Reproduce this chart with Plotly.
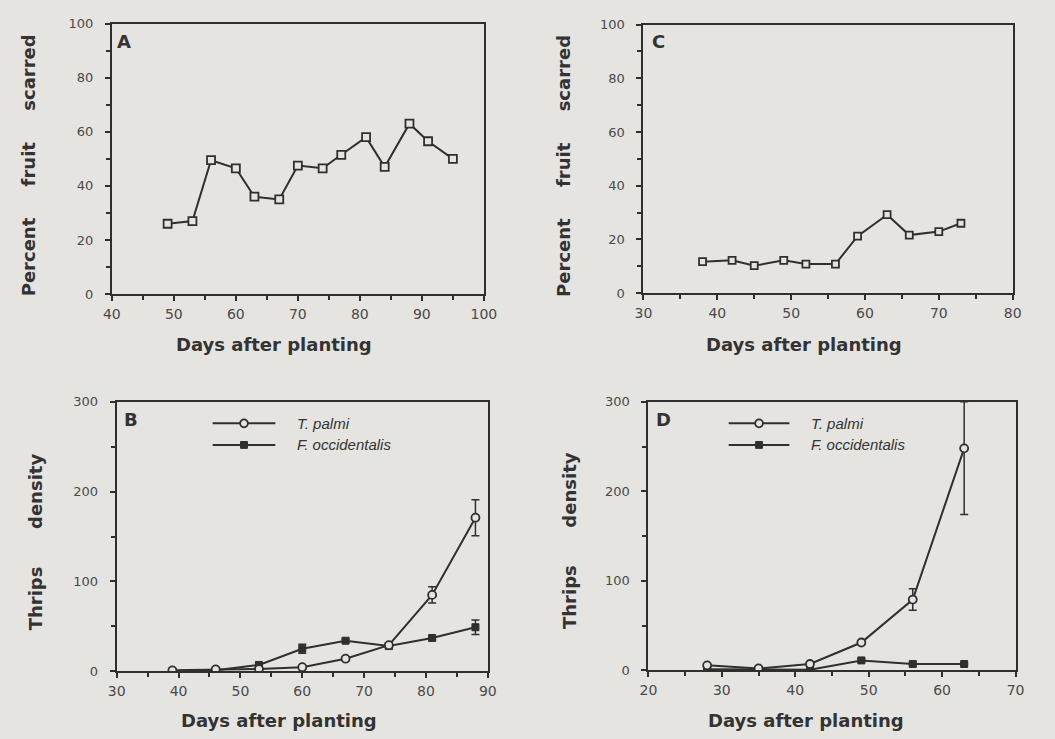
import plotly.graph_objects as go

# ---------------- data ----------------
A_days = [49, 53, 56, 60, 63, 67, 70, 74, 77, 81, 84, 88, 91, 95]
A_pct = [26, 27, 49.5, 46.5, 36, 35, 47.5, 46.5, 51.5, 58, 47, 63, 56.5, 50]

C_days = [38, 42, 45, 49, 52, 56, 59, 63, 66, 70, 73]
C_pct = [11.7, 12.2, 10.2, 12.2, 10.8, 10.8, 21.2, 29.2, 21.6, 22.9, 26]

B_days = [39, 46, 53, 60, 67, 74, 81, 88]
B_palmi = [1, 2, 2.5, 4.5, 14, 29, 85, 171]
B_palmi_err = [0, 0, 0, 1, 2, 2, 9, 20]
B_occ = [0, 1, 7, 25, 34, 28, 37, 49]
B_occ_err = [0, 0, 2, 5, 2, 3, 2, 8]

D_days = [28, 35, 42, 49, 56, 63]
D_palmi = [5.5, 2, 7, 31, 79, 248]
D_palmi_err_plus = [0, 0, 0, 2, 12, 52]
D_palmi_err_minus = [0, 0, 0, 2, 12, 74]
D_occ = [1, 1, 0.5, 11, 7, 7]
D_occ_err = [0, 0, 0, 2, 1, 1]

series_names = ["T. palmi", "F. occidentalis"]
x_title = "Days after planting"
yA_title = "Percent\u00a0\u00a0\u00a0\u00a0\u00a0fruit\u00a0\u00a0\u00a0\u00a0\u00a0scarred"
yB_title = "Thrips\u00a0\u00a0\u00a0\u00a0\u00a0\u00a0density"
panel_letters = ["A", "C", "B", "D"]

# ---------------- style ----------------
W, H = 1055, 739
BG = "#e6e4e0"
INK = "#2f2f2f"
XTICK_FONT = dict(family="DejaVu Sans", size=14, color="#4a4a4a")
YTICK_FONT = dict(family="DejaVu Sans", size=13, color="#4a4a4a")
TITLE_FONT = dict(family="DejaVu Sans", size=18, color="#333333")


def px(x):
    return x / W


def py(y):
    return 1 - y / H


fig = go.Figure()

line_style = dict(color=INK, width=2)
err_style = dict(color=INK, thickness=1.5, width=4)
open_square = dict(symbol="square", size=8, color=BG, line=dict(color=INK, width=1.8))
open_circle = dict(symbol="circle", size=8, color=BG, line=dict(color=INK, width=1.8))
filled_square = dict(symbol="square", size=7, color=INK, line=dict(color=INK, width=1))

# Panel A
fig.add_trace(go.Scatter(x=A_days, y=A_pct, mode="lines+markers", xaxis="x", yaxis="y",
                         line=line_style, marker=open_square, showlegend=False))
# Panel C
fig.add_trace(go.Scatter(x=C_days, y=C_pct, mode="lines+markers", xaxis="x2", yaxis="y2",
                         line=line_style, marker=dict(open_square, size=7), showlegend=False))
# Panel B
fig.add_trace(go.Scatter(x=B_days, y=B_occ, mode="lines+markers", xaxis="x3", yaxis="y3",
                         line=line_style, error_y=dict(type="data", array=B_occ_err, **err_style),
                         marker=filled_square, name=series_names[1], showlegend=False))
fig.add_trace(go.Scatter(x=B_days, y=B_palmi, mode="lines+markers", xaxis="x3", yaxis="y3",
                         line=line_style, error_y=dict(type="data", array=B_palmi_err, **err_style),
                         marker=open_circle, name=series_names[0], showlegend=False))
# Panel D
fig.add_trace(go.Scatter(x=D_days, y=D_occ, mode="lines+markers", xaxis="x4", yaxis="y4",
                         line=line_style, error_y=dict(type="data", array=D_occ_err, **err_style),
                         marker=filled_square, name=series_names[1], showlegend=False))
fig.add_trace(go.Scatter(x=D_days, y=D_palmi, mode="lines+markers", xaxis="x4", yaxis="y4",
                         line=line_style,
                         error_y=dict(type="data", array=D_palmi_err_plus, arrayminus=D_palmi_err_minus, **err_style),
                         marker=open_circle, name=series_names[0], showlegend=False))


def axis(domain, rng, dtick, minor_dtick, anchor, is_x):
    return dict(domain=domain, range=rng, dtick=dtick, tick0=0, anchor=anchor,
                showline=True, mirror=True, linecolor=INK, linewidth=2,
                ticks="outside", ticklen=5, tickwidth=1.5, tickcolor=INK,
                minor=dict(dtick=minor_dtick, ticks="outside", ticklen=4, tickwidth=1.5, tickcolor=INK),
                showgrid=False, zeroline=False,
                tickfont=XTICK_FONT if is_x else YTICK_FONT,
                ticklabelstandoff=1 if is_x else 9,
                fixedrange=True)


fig.update_layout(
    width=W, height=H, margin=dict(l=0, r=0, t=0, b=0),
    paper_bgcolor=BG, plot_bgcolor=BG,
    xaxis=axis([px(105), px(485)], [40, 100], 10, 5, "y", True),
    yaxis=axis([py(293), py(17)], [0, 100], 20, 10, "x", False),
    xaxis2=axis([px(648), px(1025)], [30, 80], 10, 5, "y2", True),
    yaxis2=axis([py(292), py(18)], [0, 100], 20, 10, "x2", False),
    xaxis3=axis([px(110), px(489)], [30, 90], 10, 5, "y3", True),
    yaxis3=axis([py(678), py(403)], [0, 300], 100, 50, "x3", False),
    xaxis4=axis([px(653), px(1028)], [20, 70], 10, 5, "y4", True),
    yaxis4=axis([py(677), py(403)], [0, 300], 100, 50, "x4", False),
)

ann = []
# x titles
for cx, cy in [(271, 344), (812, 344), (276, 728), (814, 728)]:
    ann.append(dict(x=px(cx), y=py(cy), xref="paper", yref="paper", text="<b>%s</b>" % x_title,
                    showarrow=False, font=TITLE_FONT, xanchor="center", yanchor="middle"))
# y titles
for cx, cy, t in [(20, 162, yA_title), (567, 162, yA_title), (28, 546, yB_title), (573, 545, yB_title)]:
    ann.append(dict(x=px(cx), y=py(cy), xref="paper", yref="paper", text="<b>%s</b>" % t,
                    textangle=-90, showarrow=False, font=TITLE_FONT, xanchor="center", yanchor="middle"))
# panel letters
for (cx, cy), L in zip([(117, 35), (663, 35), (125, 421), (668, 421)], panel_letters):
    ann.append(dict(x=px(cx), y=py(cy), xref="paper", yref="paper", text="<b>%s</b>" % L,
                    showarrow=False, font=dict(family="DejaVu Sans", size=18, color="#333333"),
                    xanchor="center", yanchor="middle"))

shapes = []
# legends (B and D)
for x0, x1, tx in [(208, 272, 292), (735, 797, 817)]:
    mid = (x0 + x1) / 2
    for i, (ly, nm) in enumerate([(425, series_names[0]), (447, series_names[1])]):
        shapes.append(dict(type="line", xref="paper", yref="paper", x0=px(x0), x1=px(x1),
                           y0=py(ly), y1=py(ly), line=dict(color=INK, width=2)))
        if i == 0:
            shapes.append(dict(type="circle", xref="paper", yref="paper",
                               x0=px(mid - 4), x1=px(mid + 4), y0=py(ly - 4), y1=py(ly + 4),
                               fillcolor=BG, line=dict(color=INK, width=1.8)))
        else:
            shapes.append(dict(type="rect", xref="paper", yref="paper",
                               x0=px(mid - 3.5), x1=px(mid + 3.5), y0=py(ly - 3.5), y1=py(ly + 3.5),
                               fillcolor=INK, line=dict(color=INK, width=1)))
        ann.append(dict(x=px(tx), y=py(ly), xref="paper", yref="paper", text="<i>%s</i>" % nm,
                        showarrow=False, font=dict(family="Liberation Sans", size=15, color="#333333"),
                        xanchor="left", yanchor="middle"))

fig.update_layout(annotations=ann, shapes=shapes)

fig.write_html("out.html")
